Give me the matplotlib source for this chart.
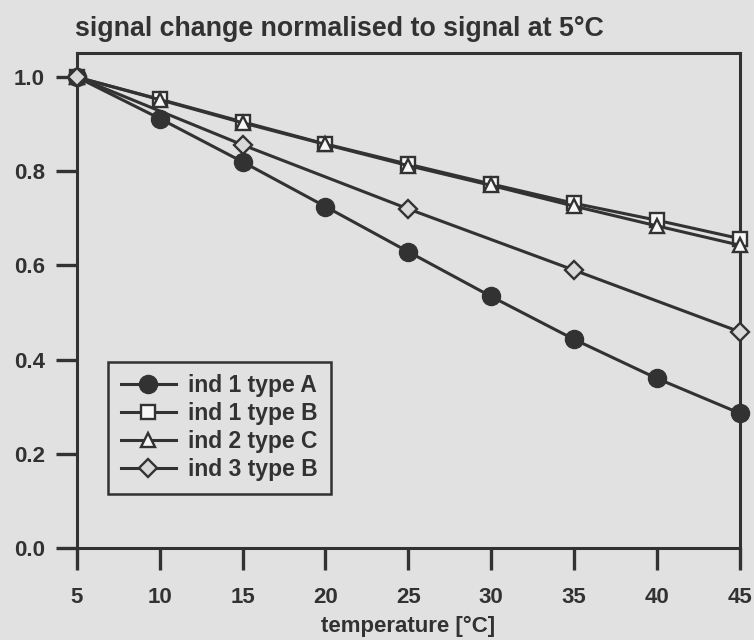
import matplotlib
matplotlib.use("Agg")
from matplotlib import pyplot as plt

# data
temp = [5, 10, 15, 20, 25, 30, 35, 40, 45]
ind1_A = [1.0, 0.912, 0.820, 0.725, 0.629, 0.534, 0.443, 0.360, 0.286]
ind1_B = [1.0, 0.953, 0.905, 0.858, 0.815, 0.773, 0.732, 0.696, 0.657]
ind2_C = [1.0, 0.952, 0.903, 0.857, 0.812, 0.770, 0.726, 0.684, 0.643]
temp_d = [5, 15, 25, 35, 45]
ind3_B = [1.0, 0.856, 0.720, 0.590, 0.459]

bg = "#e1e1e1"
ink = "#323232"

plt.rcParams["font.family"] = ["Liberation Sans", "DejaVu Sans"]
plt.rcParams["font.weight"] = "bold"

fig = plt.figure(figsize=(7.54, 6.40), dpi=100, facecolor=bg)
ax = fig.add_axes([0.102, 0.144, 0.879, 0.773], facecolor=bg)

lw = 2.2
ax.plot(temp, ind1_B, color=ink, lw=lw, marker="s", ms=10, mfc="#f7f7f7",
        mec=ink, mew=1.7, clip_on=False, label="ind 1 type B", zorder=3)
ax.plot(temp, ind2_C, color=ink, lw=lw, marker="^", ms=10.5, mfc="#f7f7f7",
        mec=ink, mew=1.7, clip_on=False, label="ind 2 type C", zorder=4)
ax.plot(temp, ind1_A, color=ink, lw=lw, marker="o", ms=13, mfc=ink,
        mec=ink, clip_on=False, label="ind 1 type A", zorder=3)
ax.plot(temp_d, ind3_B, color=ink, lw=lw, marker="D", ms=9.5, mfc="#d8d8d8",
        mec=ink, mew=1.7, clip_on=False, label="ind 3 type B", zorder=5)

ax.set_xlim(5, 45)
ax.set_ylim(0, 1.051)
ax.set_xticks(temp)
ax.set_yticks([0.0, 0.2, 0.4, 0.6, 0.8, 1.0])
ax.set_yticklabels(["0.0", "0.2", "0.4", "0.6", "0.8", "1.0"])

for s in ax.spines.values():
    s.set_color(ink)
    s.set_linewidth(2.2)
ax.tick_params(direction="out", length=15, width=2.4, color=ink,
               labelsize=16, labelcolor=ink, pad=8)
ax.tick_params(axis="x", length=16, pad=12)

ax.set_xlabel("temperature [°C]", fontsize=16, fontweight="bold", color=ink, labelpad=6)
ax.set_title("signal change normalised to signal at 5°C", fontsize=19.3,
             fontweight="bold", color=ink, loc="left", x=-0.003, pad=12)

h, l = ax.get_legend_handles_labels()
order = [2, 0, 1, 3]
leg = ax.legend([h[i] for i in order], [l[i] for i in order],
                loc="lower left", bbox_to_anchor=(0.047, 0.109),
                fontsize=16.5, frameon=True, fancybox=False, framealpha=1,
                facecolor=bg, edgecolor=ink, handlelength=2.4,
                borderpad=0.55, labelspacing=0.22, handletextpad=0.55,
                borderaxespad=0)
leg.get_frame().set_linewidth(1.8)
for t in leg.get_texts():
    t.set_color(ink)

fig.savefig("out.png", dpi=100, facecolor=bg)
